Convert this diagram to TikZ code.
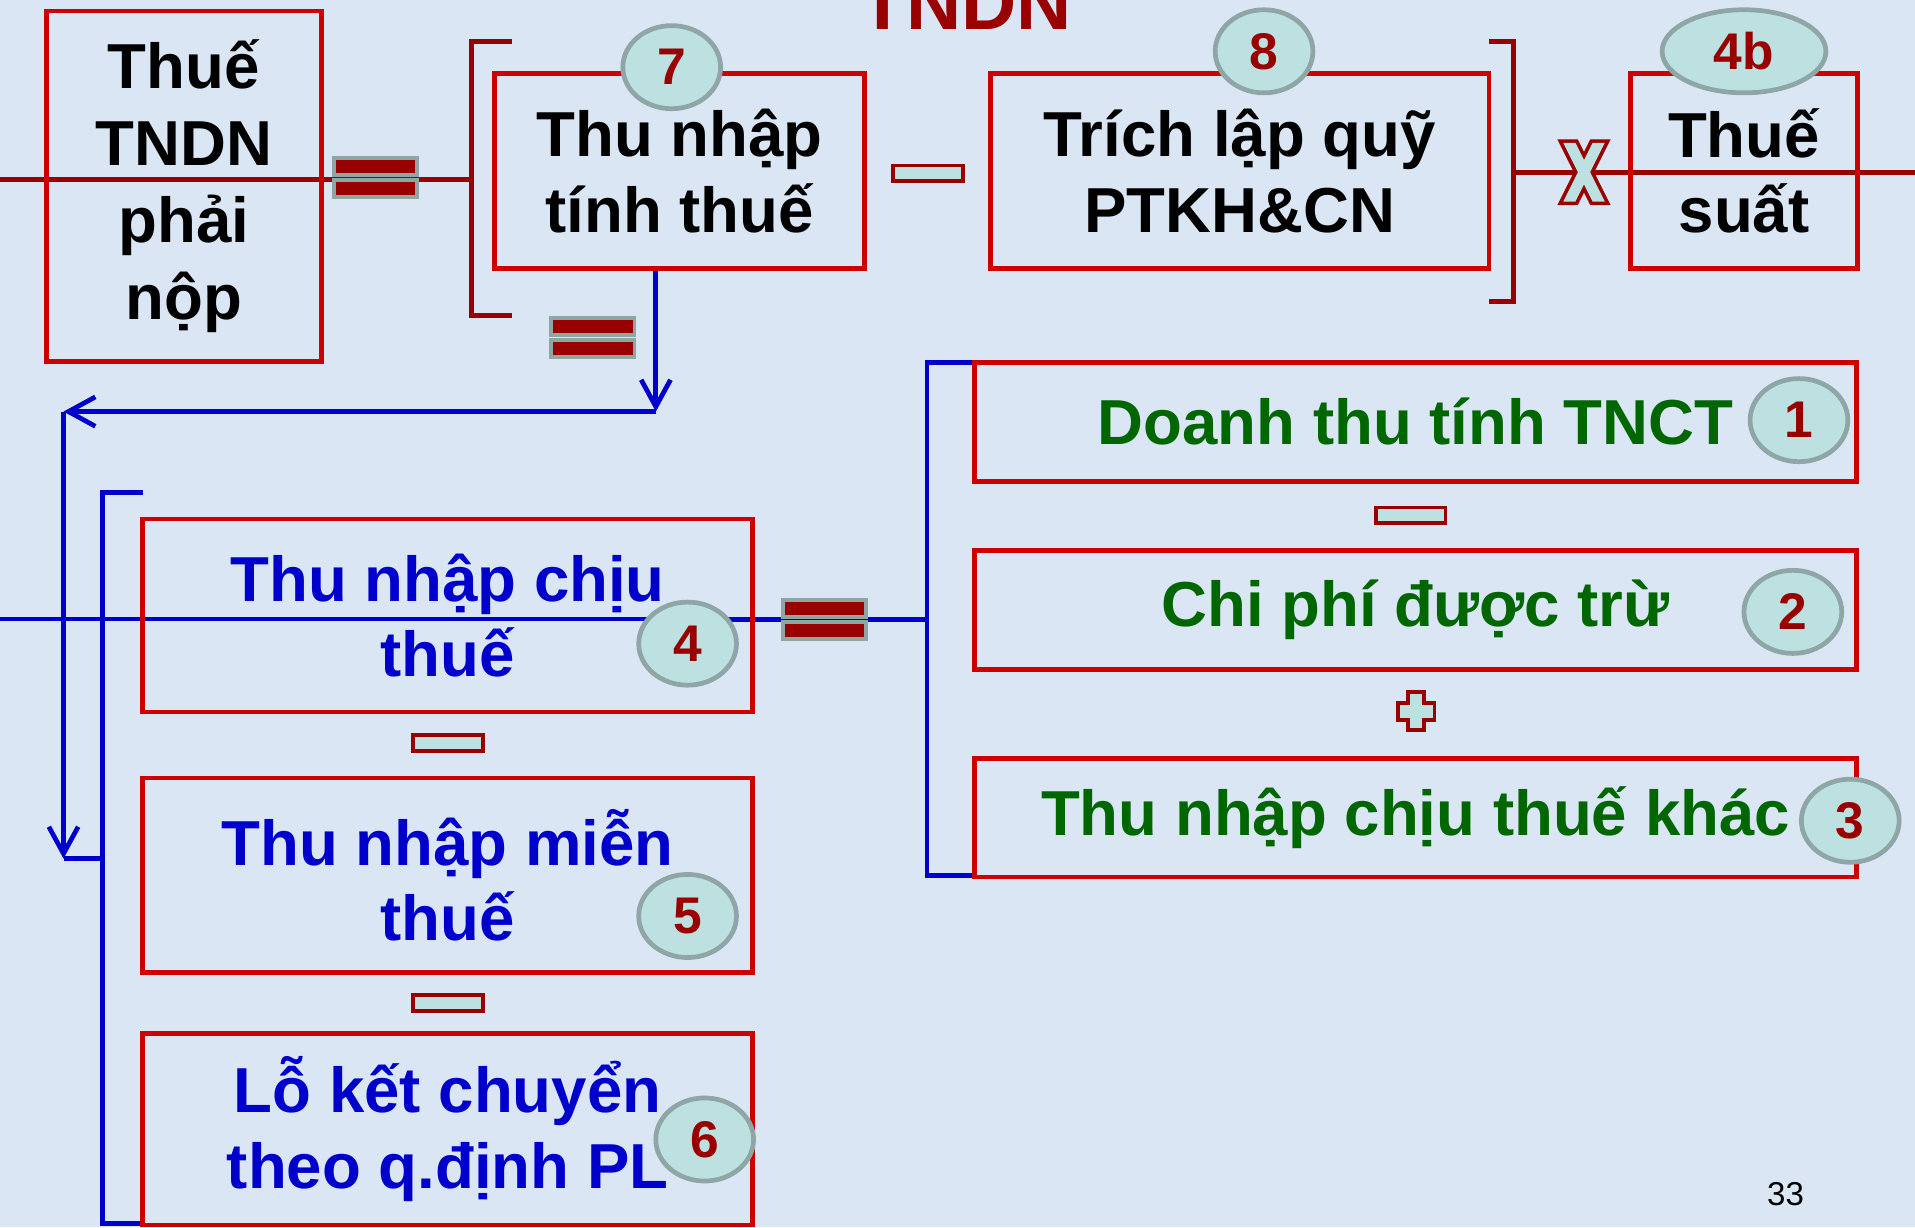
\documentclass[tikz,border=0pt]{standalone}
\usepackage{fontspec}
\setmainfont{Liberation Sans}
\usetikzlibrary{arrows.meta,shapes.geometric}
\definecolor{bg}{RGB}{218,230,244}
\definecolor{boxred}{RGB}{204,0,0}
\definecolor{dred}{RGB}{153,0,0}
\definecolor{tealf}{RGB}{189,224,224}
\definecolor{greyb}{RGB}{143,166,166}
\definecolor{myblue}{RGB}{0,0,204}
\definecolor{mygreen}{RGB}{0,102,0}
\begin{document}
\begin{tikzpicture}[x=0.01cm,y=-0.01cm,
  box/.style={draw=boxred, line width=1.1pt, inner sep=0pt, align=center,
    font=\bfseries\fontsize{14.8}{17.6}\selectfont},
  badge/.style={ellipse, draw=greyb, fill=tealf, line width=1.1pt, inner sep=0pt,
    minimum width=0.8cm, minimum height=0.68cm, text=dred,
    font=\bfseries\fontsize{12}{12}\selectfont},
  minusbox/.style={draw=dred, fill=tealf, line width=0.9pt, inner sep=0pt,
    minimum width=0.57cm, minimum height=0.13cm},
  eqbar/.style={draw=greyb, fill=dred, line width=0.9pt, inner sep=0pt,
    minimum width=0.68cm, minimum height=0.14cm},
  redln/.style={draw=dred, line width=1.2pt},
  blueln/.style={draw=myblue, line width=1.1pt},
  bluearr/.style={draw=myblue, line width=1.1pt, -{Straight Barb[length=2.2mm,width=2.4mm]}},
]
\fill[bg] (0,0) rectangle (1568,1005);
\useasboundingbox (0,0) rectangle (1568,1005);
\clip (0,0) rectangle (1568,1005);

% title (cut at top)
\node[anchor=base, text=dred, font=\bfseries\fontsize{17.8}{18}\selectfont] (title) at (791,24) {TNDN};

% coordinates for connectors
\coordinate (rl0) at (0,147);
\coordinate (lbT) at (419,34);
\coordinate (lbTc) at (386,34);
\coordinate (lbM) at (386,147);
\coordinate (lbBc) at (386,258);
\coordinate (lbB) at (419,258);
\coordinate (rbT) at (1219,34);
\coordinate (rbTc) at (1239,34);
\coordinate (rbM) at (1239,141);
\coordinate (rbBc) at (1239,247);
\coordinate (rbB) at (1219,247);
\coordinate (rl1) at (1568,141);

\coordinate (bl0) at (0,507);
\coordinate (bl1) at (759,507);
\coordinate (RbT) at (798,297);
\coordinate (RbTc) at (759,297);
\coordinate (RbBc) at (759,717);
\coordinate (RbB) at (798,717);
\coordinate (LbT) at (117,403);
\coordinate (LbTc) at (84,403);
\coordinate (LbM) at (84,703);
\coordinate (LbBc) at (84,1002);
\coordinate (LbB) at (117,1002);

\coordinate (a0) at (537,220);
\coordinate (a1) at (537,337);
\coordinate (a2) at (52,337);
\coordinate (a3) at (52,703);

% red lines and brackets
\draw[redln] (rl0) -- (lbM);
\draw[redln] (lbT) -- (lbTc) -- (lbBc) -- (lbB);
\draw[redln] (rbT) -- (rbTc) -- (rbBc) -- (rbB);
\draw[redln] (rbM) -- (rl1);

% blue lines and brackets
\draw[myblue, line width=0.8pt] (bl0) -- (bl1);
\draw[blueln] (563,507) -- (bl1);
\draw[blueln] (RbT) -- (RbTc) -- (RbBc) -- (RbB);
\draw[blueln] (LbT) -- (LbTc) -- (LbBc) -- (LbB);
\draw[bluearr] (a0) -- (a1);
\draw[bluearr] (a1) -- (a2);
\draw[bluearr] (a2) -- (a3);
\draw[blueln] (a3) -- (LbM);

% top row boxes
\node[box, minimum width=2.25cm, minimum height=2.87cm, font=\bfseries\fontsize{14.8}{17.9}\selectfont] (tndn) at (150.5,152.5) {Thuế\\TNDN\\phải\\nộp};
\node[box, minimum width=3.03cm, minimum height=1.6cm] (b7) at (556.5,140) {Thu nhập\\tính thuế};
\node[box, minimum width=4.08cm, minimum height=1.6cm] (b8) at (1015,140) {Trích lập quỹ\\PTKH\&CN};
\node[box, minimum width=1.86cm, minimum height=1.6cm] (bts) at (1428,140) {Thuế\\suất};

\node[badge] (n7) at (550,55) {7};
\node[badge] (n8) at (1035,42) {8};
\node[badge, minimum width=1.34cm] (n4b) at (1428,42) {4b};

% equals / minus signs
\node[eqbar] (e1a) at (307.5,136.5) {};
\node[eqbar] (e1b) at (307.5,154.5) {};
\node[eqbar] (e2a) at (485.5,267.5) {};
\node[eqbar] (e2b) at (485.5,285.5) {};
\node[eqbar] (e3a) at (675,498.5) {};
\node[eqbar] (e3b) at (675,516.5) {};
\node[minusbox] (m78) at (760,142) {};
\node[minusbox] (m12) at (1155,422) {};
\node[minusbox] (m45) at (367,608.5) {};
\node[minusbox] (m56) at (367,821) {};

% multiply sign
\draw[dred, line width=1.7pt, line join=miter]
  (1280,165) -- (1290,165) -- (1314,117) -- (1304,117) -- cycle
  (1280,117) -- (1290,117) -- (1314,165) -- (1304,165) -- cycle;
\fill[tealf] (1280,165) -- (1290,165) -- (1314,117) -- (1304,117) -- cycle;
\fill[tealf] (1280,117) -- (1290,117) -- (1314,165) -- (1304,165) -- cycle;

% plus sign
\draw[dred, line width=1.7pt, line join=miter]
  (1146,577) rectangle (1173,588)
  (1154.5,568) rectangle (1164.5,596);
\fill[tealf] (1146,577) rectangle (1173,588);
\fill[tealf] (1154.5,568) rectangle (1164.5,596);

% right boxes
\node[box, minimum width=7.22cm, minimum height=0.97cm, text=mygreen] (b1) at (1159,345.5) {Doanh thu tính TNCT};
\node[box, minimum width=7.22cm, minimum height=0.97cm, text=mygreen] (b2) at (1159,499.5) {Chi phí được trừ};
\node[box, minimum width=7.22cm, minimum height=0.97cm, text=mygreen] (b3) at (1159,669.5) {Thu nhập chịu thuế khác};
\node[badge] (n1) at (1473,344) {1};
\node[badge] (n2) at (1468,501) {2};
\node[badge] (n3) at (1515,672) {3};

% left boxes
\node[box, minimum width=4.99cm, minimum height=1.58cm, text=myblue] (b4) at (366.5,504) {Thu nhập chịu\\thuế};
\node[box, minimum width=4.99cm, minimum height=1.59cm, text=myblue] (b5) at (366.5,716.5) {Thu nhập miễn\\thuế};
\node[box, minimum width=4.99cm, minimum height=1.57cm, text=myblue] (b6) at (366.5,924.5) {Lỗ kết chuyển\\theo q.định PL};
\node[badge] (n4) at (563,527) {4};
\node[badge] (n5) at (563,750) {5};
\node[badge] (n6) at (577,933) {6};

% page number
\node[font=\fontsize{7.7}{8}\selectfont] (pg) at (1462,978) {33};
\end{tikzpicture}
\end{document}
